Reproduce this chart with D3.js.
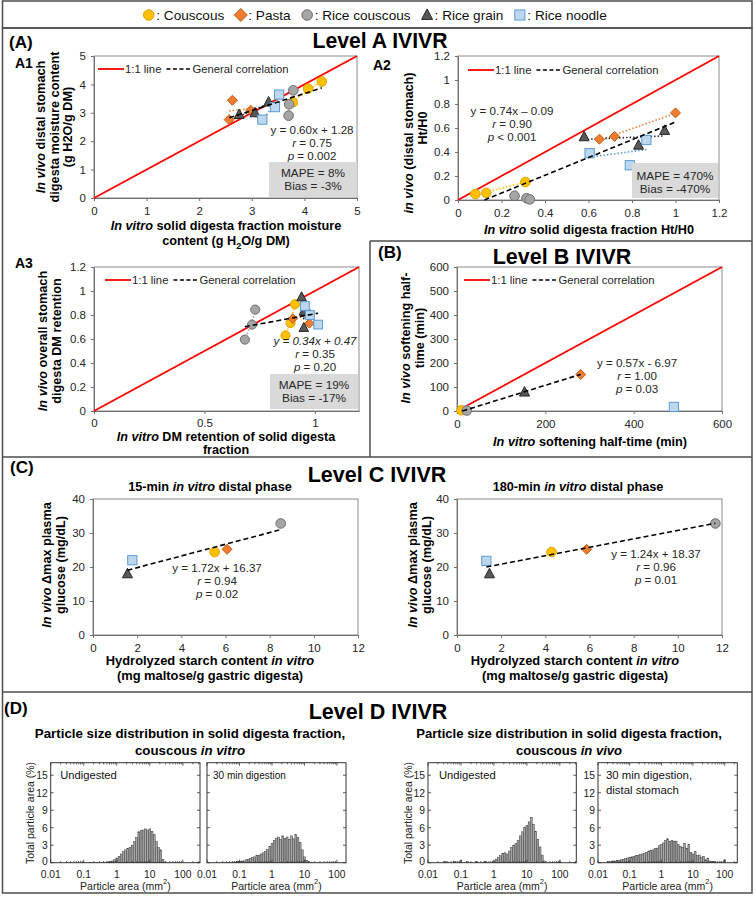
<!DOCTYPE html>
<html><head><meta charset="utf-8">
<script src="https://cdn.jsdelivr.net/npm/d3@7"></script>
<style>
body{margin:0;background:#fff;}
svg text{font-family:"Liberation Sans",Arial,Helvetica,sans-serif;}
</style></head><body>
<svg id="c" width="756" height="899"></svg>
<script>
// ---------------- DATA ----------------
const products = ["Couscous","Pasta","Rice couscous","Rice grain","Rice noodle"];

// Level A1: in vitro vs in vivo moisture content [product, x, y]
const a1Points = [
 ["Couscous",4.33,4.10],["Couscous",4.07,3.85],["Couscous",3.78,3.37],
 ["Pasta",2.57,2.76],["Pasta",2.63,3.44],["Pasta",2.98,3.09],
 ["Rice couscous",3.79,3.79],["Rice couscous",3.71,3.30],["Rice couscous",3.70,2.90],
 ["Rice grain",2.76,2.94],["Rice grain",3.06,3.00],["Rice grain",3.32,3.38],
 ["Rice noodle",3.52,3.64],["Rice noodle",3.44,3.20],["Rice noodle",3.20,2.76]];
const a1Fit = [0.60, 1.28];
const a1Ticks = [0,1,2,3,4,5];

// Level A2: Ht/H0
const a2Points = [
 ["Couscous",0.08,0.05],["Couscous",0.13,0.06],["Couscous",0.31,0.15],
 ["Pasta",0.65,0.507],["Pasta",0.72,0.53],["Pasta",1.00,0.726],
 ["Rice couscous",0.26,0.035],["Rice couscous",0.315,0.015],["Rice couscous",0.33,0.005],
 ["Rice grain",0.58,0.527],["Rice grain",0.83,0.457],["Rice grain",0.95,0.58],
 ["Rice noodle",0.605,0.39],["Rice noodle",0.79,0.29],["Rice noodle",0.866,0.50]];
const a2Fit = [0.74, -0.09];
const a2Ticks = [0,0.2,0.4,0.6,0.8,1,1.2];

// Level A3: DM retention
const a3Points = [
 ["Couscous",0.867,0.63],["Couscous",0.89,0.733],["Couscous",0.91,0.89],
 ["Pasta",0.90,0.77],["Pasta",0.96,0.84],["Pasta",0.975,0.73],
 ["Rice couscous",0.683,0.595],["Rice couscous",0.716,0.72],["Rice couscous",0.73,0.845],
 ["Rice grain",0.94,0.95],["Rice grain",0.95,0.83],["Rice grain",0.95,0.695],
 ["Rice noodle",0.955,0.875],["Rice noodle",0.978,0.80],["Rice noodle",1.015,0.72]];
const a3Fit = [0.34, 0.47];
const a3XTicks = [0,0.5,1];
const a3YTicks = [0,0.2,0.4,0.6,0.8,1,1.2];

// Level B: softening half-time (min)
const bPoints = [["Couscous",10,3],["Rice couscous",22,2],["Rice grain",153,79],["Pasta",280,152],["Rice noodle",491,17]];
const bFit = [0.57, -6.97];
const bFitExclude = ["Rice noodle"];
const bTicks = [0,100,200,300,400,500,600];
const bXTicks = [0,200,400,600];

// Level C: hydrolyzed starch vs delta max plasma glucose
const c15Points = [["Rice noodle",1.78,22.0],["Rice grain",1.56,18.0],["Couscous",5.51,24.4],["Pasta",6.07,25.2],["Rice couscous",8.5,32.8]];
const c15Fit = [1.72, 16.37];
const c180Points = [["Rice noodle",1.33,21.8],["Rice grain",1.47,18.0],["Couscous",4.28,24.4],["Pasta",5.87,25.2],["Rice couscous",11.7,32.8]];
const c180Fit = [1.24, 18.37];
const cXTicks = [0,2,4,6,8,10,12];
const cYTicks = [0,10,20,30,40];

// Level D: particle size distributions [particle area mm2, % total area]
const dVitroUndigested = [[0.10,0.05],[0.16,0.05],[0.25,0.05],[0.40,0.1],[0.54,0.15],[0.63,0.2],[0.74,0.3],[0.86,0.5],[1.00,0.8],[1.17,1.1],[1.36,1.5],[1.58,1.9],[1.85,2.2],[2.15,2.4],[2.51,2.6],[2.93,3.0],[3.41,3.6],[3.98,4.3],[4.64,5.3],[5.41,5.5],[6.31,5.6],[7.36,5.8],[8.58,5.6],[10.0,5.8],[11.7,5.4],[13.6,4.8],[15.8,3.6],[18.5,2.6],[21.5,2.2],[25.1,0.6],[29.3,0.1]];
const dVitro30 = [[0.034,0.05],[0.046,0.05],[0.063,0.1],[0.074,0.1],[0.086,0.2],[0.10,0.2],[0.117,0.3],[0.136,0.3],[0.158,0.5],[0.185,0.6],[0.215,0.7],[0.251,0.9],[0.293,1.0],[0.341,1.2],[0.398,1.3],[0.464,1.5],[0.541,1.7],[0.631,1.9],[0.736,2.3],[0.858,2.8],[1.00,3.3],[1.17,3.8],[1.36,4.2],[1.58,4.4],[1.85,4.0],[2.15,4.6],[2.51,4.2],[2.93,4.4],[3.41,4.0],[3.98,4.6],[4.64,4.1],[5.41,4.8],[6.31,4.3],[7.36,3.5],[8.58,2.2],[10.0,1.0],[11.7,0.4],[13.6,0.2],[15.8,0.1]];
const dVivoUndigested = [[0.034,0.2],[0.063,0.2],[0.10,0.4],[0.158,0.2],[0.293,0.2],[0.541,0.2],[1.00,0.3],[1.17,0.6],[1.36,0.9],[1.58,1.2],[1.85,1.6],[2.15,1.7],[2.51,1.5],[2.93,2.0],[3.41,2.6],[3.98,3.0],[4.64,3.3],[5.41,3.8],[6.31,4.6],[7.36,5.3],[8.58,6.0],[10.0,6.4],[11.7,7.0],[13.6,7.8],[15.8,6.6],[18.5,5.4],[21.5,4.0],[25.1,2.7],[29.3,1.3],[34.1,0.3],[100,0.3]];
const dVivo30 = [[0.0215,0.2],[0.025,0.2],[0.029,0.3],[0.034,0.3],[0.040,0.4],[0.046,0.4],[0.054,0.5],[0.063,0.6],[0.074,0.7],[0.086,0.8],[0.10,0.9],[0.117,1.0],[0.136,1.1],[0.158,1.2],[0.185,1.3],[0.215,1.4],[0.251,1.5],[0.293,1.6],[0.341,1.8],[0.398,2.0],[0.464,2.1],[0.541,2.2],[0.631,2.4],[0.736,2.5],[0.858,2.9],[1.00,3.1],[1.17,3.4],[1.36,3.8],[1.58,4.1],[1.85,3.6],[2.15,3.8],[2.51,3.7],[2.93,3.7],[3.41,3.1],[3.98,2.8],[4.64,2.6],[5.41,3.3],[6.31,2.5],[7.36,3.1],[8.58,1.8],[10.0,1.5],[11.7,1.9],[13.6,1.2],[15.8,1.3],[18.5,0.9],[21.5,1.1],[25.1,0.5],[29.3,0.8],[34.1,0.3],[39.8,0.2],[46.4,0.2],[54.1,0.1],[73.6,0.1],[100,0.5]];
const dXTicks = [0.01,0.1,1,10,100];
const dXTickLabels = ["0.01","0.1","1","10","100"];
const dYTicks = [0,3,6,9,12,15];

// ---------------- STYLE ----------------
const shapeOf = {"Couscous":"circle","Pasta":"diamond","Rice couscous":"circle","Rice grain":"triangle","Rice noodle":"square"};
const fillOf = {"Couscous":"#FFC000","Pasta":"#ED7D31","Rice couscous":"#A5A5A5","Rice grain":"#595959","Rice noodle":"#BDD7EE"};
const strokeOf = {"Couscous":"#D9A300","Pasta":"#C55A11","Rice couscous":"#6E6E6E","Rice grain":"#262626","Rice noodle":"#5B9BD5"};
const lineOf = {"Couscous":"#FFC000","Pasta":"#ED7D31","Rice couscous":"#A5A5A5","Rice grain":"#262626","Rice noodle":"#5B9BD5"};

const svg = d3.select('#c');

function rich(sel, parts, size){
  parts.forEach(p=>{
    const [t,s] = Array.isArray(p) ? p : [p,''];
    const ts = sel.append('tspan').text(t);
    if (s.includes('i')) ts.attr('font-style','italic');
    if (s.includes('sub')) ts.attr('baseline-shift','sub').attr('font-size',size*0.72);
    if (s.includes('sup')) ts.attr('baseline-shift','super').attr('font-size',size*0.72);
  });
}
function label(x,y,parts,o={}){
  const size=o.size||12.5;
  const t=svg.append('text').attr('font-size',size)
    .attr('font-weight',o.bold?'bold':'normal')
    .attr('text-anchor',o.anchor||'middle')
    .attr('dominant-baseline','central')
    .attr('fill',o.fill||'#000');
  if(o.rotate) t.attr('transform',`translate(${x},${y}) rotate(-90)`);
  else t.attr('x',x).attr('y',y);
  rich(t, typeof parts==='string'?[parts]:parts, size);
  return t;
}
function marker(g,prod,cx,cy,s=1){
  const t=shapeOf[prod]; let el;
  if(t==='circle') el=g.append('circle').attr('cx',cx).attr('cy',cy).attr('r',4.8*s);
  else if(t==='square') el=g.append('rect').attr('x',cx-4.6*s).attr('y',cy-4.6*s).attr('width',9.2*s).attr('height',9.2*s);
  else if(t==='diamond') el=g.append('path').attr('d',`M${cx},${cy-5*s}L${cx+5*s},${cy}L${cx},${cy+5*s}L${cx-5*s},${cy}Z`);
  else el=g.append('path').attr('d',`M${cx},${cy-5.5*s}L${cx+5*s},${cy+4*s}L${cx-5*s},${cy+4*s}Z`);
  el.attr('fill',fillOf[prod]).attr('stroke',strokeOf[prod]).attr('stroke-width',1);
}
function ols(pts){
  const mx=d3.mean(pts,d=>d[0]), my=d3.mean(pts,d=>d[1]);
  let sxy=0,sxx=0; pts.forEach(([a,b])=>{sxy+=(a-mx)*(b-my);sxx+=(a-mx)*(a-mx);});
  const m=sxx?sxy/sxx:0; return [m,my-m*mx];
}

function scatter(c){
  const x=d3.scaleLinear().domain(c.xDom).range([c.left,c.right]);
  const y=d3.scaleLinear().domain(c.yDom).range([c.bottom,c.top]);
  const g=svg.append('g');
  g.append('rect').attr('x',c.left).attr('y',c.top).attr('width',c.right-c.left).attr('height',c.bottom-c.top)
    .attr('fill','none').attr('stroke','#8a8a8a').attr('stroke-width',1);
  const styleAxis=a=>{
    a.attr('font-size',11.5).attr('font-family',null);
    a.select('.domain').attr('stroke','#6f6f6f');
    a.selectAll('line').attr('stroke','#6f6f6f');
    a.selectAll('text').attr('fill','#262626');
  };
  g.append('g').attr('transform',`translate(0,${c.bottom})`)
    .call(d3.axisBottom(x).tickValues(c.xTicks).tickFormat(d=>String(d)).tickSizeInner(3).tickSizeOuter(0).tickPadding(c.xPad||6)).call(styleAxis);
  g.append('g').attr('transform',`translate(${c.left},0)`)
    .call(d3.axisLeft(y).tickValues(c.yTicks).tickFormat(d=>String(d)).tickSizeInner(3).tickSizeOuter(0).tickPadding(5)).call(styleAxis);
  const line=d3.line().x(d=>x(d[0])).y(d=>y(d[1]));
  if(c.oneToOne){
    g.append('path').attr('d',line([[c.xDom[0],c.xDom[0]],[c.xDom[1],c.xDom[1]]]))
      .attr('stroke','#FF0000').attr('stroke-width',1.8).attr('fill','none');
  }
  if(c.groupLines){
    products.forEach(p=>{
      const pts=c.points.filter(d=>d[0]===p).map(d=>[d[1],d[2]]);
      const [m,b]=ols(pts); const [x0,x1]=d3.extent(pts,d=>d[0]);
      g.append('path').attr('d',line([[x0,m*x0+b],[x1,m*x1+b]]))
        .attr('stroke',lineOf[p]).attr('stroke-width',1.6).attr('stroke-dasharray','1.5,2').attr('fill','none');
    });
  }
  c.points.forEach(d=>marker(g,d[0],x(d[1]),y(d[2]),c.ms||1));
  // general correlation
  const inc=c.points.filter(d=>!(c.exclude||[]).includes(d[0]));
  let [fx0,fx1]=d3.extent(inc,d=>d[1]);
  const [m,b]=c.fit;
  if(m*fx0+b<0) fx0=-b/m;
  g.append('path').attr('d',line([[fx0,m*fx0+b],[fx1,m*fx1+b]]))
    .attr('stroke','#000').attr('stroke-width',1.6).attr('stroke-dasharray','5,3').attr('fill','none');
  // legend
  if(c.legend){
    const [lx,ly]=c.legend;
    g.append('line').attr('x1',lx).attr('x2',lx+26).attr('y1',ly).attr('y2',ly).attr('stroke','#FF0000').attr('stroke-width',1.8);
    const t1=g.append('text').attr('x',lx+27).attr('y',ly).attr('dominant-baseline','central').attr('font-size',11.3).attr('fill','#262626').text('1:1 line');
    const x2=lx+27+t1.node().getComputedTextLength()+5;
    g.append('line').attr('x1',x2).attr('x2',x2+25).attr('y1',ly).attr('y2',ly).attr('stroke','#000').attr('stroke-width',1.6).attr('stroke-dasharray','4,2.5');
    g.append('text').attr('x',x2+26).attr('y',ly).attr('dominant-baseline','central').attr('font-size',11.3).attr('fill','#262626').text('General correlation');
  }
  // equation
  c.eq.lines.forEach((parts,i)=>label(c.eq.x,c.eq.ys[i],parts,{size:11.6,fill:'#262626'}));
  if(c.mape){
    const mp=c.mape;
    g.append('rect').attr('x',mp.x).attr('y',mp.y).attr('width',mp.w).attr('height',mp.h).attr('fill','#d9d9d9');
    mp.lines.forEach((s,i)=>label(mp.x+mp.w/2,mp.ys[i],s,{size:11.8,fill:'#262626'}));
  }
}

// ---------------- FRAMES ----------------
const frame=svg.append('g').attr('stroke','#4d4d4d').attr('stroke-width',1.5).attr('fill','none');
frame.append('rect').attr('x',2.5).attr('y',1).attr('width',749.5).attr('height',27);
frame.append('rect').attr('x',2.5).attr('y',28).attr('width',749.5).attr('height',865);
frame.append('line').attr('x1',2.5).attr('x2',752).attr('y1',457).attr('y2',457);
frame.append('line').attr('x1',2.5).attr('x2',752).attr('y1',692).attr('y2',692);
frame.append('line').attr('x1',370).attr('x2',752).attr('y1',241).attr('y2',241);
frame.append('line').attr('x1',370).attr('x2',370).attr('y1',241).attr('y2',457);

// top legend
const lg=svg.append('g');
let lx=0;
products.forEach(p=>{
  marker(lg,p,lx+5.5,15,p==='Pasta'?1.3:1.1);
  const t=lg.append('text').attr('x',lx+13).attr('y',15).attr('dominant-baseline','central').attr('font-size',13.6).attr('fill','#111').text(': '+p);
  lx+=13+t.node().getComputedTextLength()+11;
});
lg.attr('transform',`translate(${375-(lx-11)/2},0)`);

// ---------------- PANEL A ----------------
label(9,42,'(A)',{size:17,bold:true,anchor:'start'});
label(380,40,'Level A IVIVR',{size:21.2,bold:true});
label(15,63,'A1',{size:14,bold:true,anchor:'start'});
label(373,65,'A2',{size:14,bold:true,anchor:'start'});
label(15,263,'A3',{size:14,bold:true,anchor:'start'});

scatter({left:94,right:357,top:56,bottom:198,xDom:[0,5],yDom:[0,5],xTicks:a1Ticks,yTicks:a1Ticks,
  points:a1Points,fit:a1Fit,oneToOne:true,groupLines:true,legend:[98,69],
  eq:{x:312,ys:[129,142,155],lines:[['y = 0.60x + 1.28'],[['r','i'],' = 0.75'],[['p','i'],' = 0.002']]},
  mape:{x:269,y:162,w:88,h:35,ys:[173,186],lines:['MAPE = 8%','Bias = -3%']}});
label(226,226,[['In vitro','i'],' solid digesta fraction moisture'],{bold:true,size:12.7});
label(226,241,['content (g H',['2','sub'],'O/g DM)'],{bold:true,size:12.7});
label(41,127,[['In vivo','i'],' distal stomach'],{bold:true,size:12.7,rotate:true});
label(54.5,127,'digesta moisture content',{bold:true,size:12.7,rotate:true});
label(68,127,'(g H2O/g DM)',{bold:true,size:12.7,rotate:true});

scatter({left:458,right:719,top:56,bottom:200,xDom:[0,1.2],yDom:[0,1.2],xTicks:a2Ticks,yTicks:a2Ticks,
  points:a2Points,fit:a2Fit,oneToOne:true,groupLines:true,legend:[468,70],
  eq:{x:512,ys:[110,123,136],lines:[['y = 0.74x \u2013 0.09'],[['r','i'],' = 0.90'],[['p','i'],' < 0.001']]},
  mape:{x:632,y:163,w:86,h:35,ys:[176,188.5],lines:['MAPE = 470%','Bias = -470%']}});
label(589,230,[['In vitro','i'],' solid digesta fraction Ht/H0'],{bold:true,size:12.7});
label(409,143,[['in vivo','i'],' (distal stomach)'],{bold:true,size:12.7,rotate:true});
label(423,128,'Ht/H0',{bold:true,size:12.7,rotate:true});

scatter({left:94,right:359,top:267,bottom:411,xDom:[0,1.2],yDom:[0,1.2],xTicks:a3XTicks,yTicks:a3YTicks,xPad:4.5,
  points:a3Points,fit:a3Fit,oneToOne:true,groupLines:true,legend:[105,280],ms:0.95,
  eq:{x:315,ys:[340,353,366],lines:[[['y = 0.34x + 0.47','i']],[['r','i'],' = 0.35'],[['p','i'],' = 0.20']]},
  mape:{x:270,y:374,w:88,h:35,ys:[385,397.5],lines:['MAPE = 19%','Bias = -17%']}});
label(226,436.5,[['In vitro','i'],' DM retention of solid digesta'],{bold:true,size:12.6});
label(226,450,'fraction',{bold:true,size:12.6});
label(43,341,[['In vivo','i'],' overall stomach'],{bold:true,size:12.7,rotate:true});
label(57,341,'digesta DM retention',{bold:true,size:12.7,rotate:true});

// ---------------- PANEL B ----------------
label(378,252,'(B)',{size:17,bold:true,anchor:'start'});
label(562,257,'Level B IVIVR',{size:21.5,bold:true});
scatter({left:457,right:722,top:267,bottom:411,xDom:[0,600],yDom:[0,600],xTicks:bXTicks,yTicks:bTicks,
  points:bPoints,fit:bFit,exclude:bFitExclude,oneToOne:true,groupLines:false,legend:[464,280],
  eq:{x:637,ys:[362,375,388],lines:[['y = 0.57x - 6.97'],[['r','i'],' = 1.00'],[['p','i'],' = 0.03']]}});
label(590,442,[['In vitro','i'],' softening half-time (min)'],{bold:true,size:12.7});
label(406,338,[['In vivo','i'],' softening half-'],{bold:true,size:12.7,rotate:true});
label(420,338,'time (min)',{bold:true,size:12.7,rotate:true});

// ---------------- PANEL C ----------------
label(10,467,'(C)',{size:17,bold:true,anchor:'start'});
label(377,475,'Level C IVIVR',{size:21.5,bold:true});
label(210,487,['15-min ',['in vitro','i'],' distal phase'],{bold:true,size:12.7});
label(578,487,['180-min ',['in vitro','i'],' distal phase'],{bold:true,size:12.7});
scatter({left:93,right:358,top:499,bottom:635,xDom:[0,12],yDom:[0,40],xTicks:cXTicks,yTicks:cYTicks,
  points:c15Points,fit:c15Fit,oneToOne:false,groupLines:false,
  eq:{x:217,ys:[567,580,593],lines:[['y = 1.72x + 16.37'],[['r','i'],' = 0.94'],[['p','i'],' = 0.02']]}});
scatter({left:457,right:722,top:499,bottom:635,xDom:[0,12],yDom:[0,40],xTicks:cXTicks,yTicks:cYTicks,
  points:c180Points,fit:c180Fit,oneToOne:false,groupLines:false,
  eq:{x:656,ys:[553,566,579],lines:[['y = 1.24x + 18.37'],[['r','i'],' = 0.96'],[['p','i'],' = 0.01']]}});
label(210,660,['Hydrolyzed starch content ',['in vitro','i']],{bold:true,size:12.9});
label(210,675,'(mg maltose/g gastric digesta)',{bold:true,size:12.9});
label(575,660,['Hydrolyzed starch content ',['in vitro','i']],{bold:true,size:12.9});
label(575,675,'(mg maltose/g gastric digesta)',{bold:true,size:12.9});
label(47,565,[['In vivo','i'],' \u0394max plasma'],{bold:true,size:12.7,rotate:true});
label(61,565,'glucose (mg/dL)',{bold:true,size:12.7,rotate:true});
label(413,565,[['In vivo','i'],' \u0394max plasma'],{bold:true,size:12.7,rotate:true});
label(427,565,'glucose (mg/dL)',{bold:true,size:12.7,rotate:true});

// ---------------- PANEL D ----------------
label(4,708,'(D)',{size:17,bold:true,anchor:'start'});
label(378,712,'Level D IVIVR',{size:21.5,bold:true});
label(190,733,'Particle size distribution in solid digesta fraction,',{bold:true,size:13.3});
label(190,750,['couscous ',['in vitro','i']],{bold:true,size:13.3});
label(569,733,'Particle size distribution in solid digesta fraction,',{bold:true,size:13.1});
label(569,750,['couscous ',['in vivo','i']],{bold:true,size:13.1});

function hist(p){
  const top=762.7, bottom=862.7;
  const x=d3.scaleLog().domain([0.01,p.xMax]).range([p.left,p.right]);
  const y=d3.scaleLinear().domain([0,17.15]).range([bottom,top]);
  const g=svg.append('g');
  const step=(x(10)-x(1))/15;
  g.selectAll('rect.bar').data(p.data).enter().append('rect')
    .attr('x',d=>x(d[0])-step*0.42).attr('width',step*0.84)
    .attr('y',d=>y(d[1])).attr('height',d=>bottom-y(d[1]))
    .attr('fill','#a8a8a8').attr('stroke','#3a3a3a').attr('stroke-width',0.5);
  g.append('rect').attr('x',p.left).attr('y',top).attr('width',p.right-p.left).attr('height',bottom-top)
    .attr('fill','none').attr('stroke','#333').attr('stroke-width',1);
  const tk=g.append('g').attr('stroke','#333').attr('stroke-width',0.8);
  dYTicks.forEach(v=>{
    tk.append('line').attr('x1',p.left).attr('x2',p.left+3).attr('y1',y(v)).attr('y2',y(v));
    tk.append('line').attr('x1',p.right-3).attr('x2',p.right).attr('y1',y(v)).attr('y2',y(v));
  });
  dXTicks.forEach(v=>{
    tk.append('line').attr('x1',x(v)).attr('x2',x(v)).attr('y1',bottom).attr('y2',bottom-3);
    tk.append('line').attr('x1',x(v)).attr('x2',x(v)).attr('y1',top).attr('y2',top+3);
    [2,3,4,5,6,7,8,9].forEach(k=>{
      const mv=v*k; if(mv<p.xMax){
        tk.append('line').attr('x1',x(mv)).attr('x2',x(mv)).attr('y1',bottom).attr('y2',bottom-1.6);
        tk.append('line').attr('x1',x(mv)).attr('x2',x(mv)).attr('y1',top).attr('y2',top+1.6);
      }
    });
  });
  dXTicks.forEach((v,i)=>label(x(v),873.5,dXTickLabels[i],{size:10.3,fill:'#222'}));
  if(p.yLabels) dYTicks.forEach(v=>label(p.left-3,y(v)-(v===0?1.5:0),String(v),{size:10.3,fill:'#222',anchor:'end'}));
  label((p.left+p.right)/2,885.5,['Particle area (mm',['2','sup'],')'],{size:10.5,fill:'#222'});
  p.notes.forEach((n,i)=>label(p.left+p.noteDx,775+i*14.5,n,{size:p.noteSize,fill:'#111',anchor:'start'}));
}
hist({left:50.7,right:200,xMax:330,data:dVitroUndigested,yLabels:true,notes:['Undigested'],noteDx:9.5,noteSize:11.2});
hist({left:207,right:346,xMax:190,data:dVitro30,yLabels:false,notes:['30 min digestion'],noteDx:6,noteSize:10});
hist({left:428,right:576.3,xMax:316,data:dVivoUndigested,yLabels:true,notes:['Undigested'],noteDx:11,noteSize:11.2});
hist({left:598,right:737.3,xMax:250,data:dVivo30,yLabels:true,notes:['30 min digestion,','distal stomach'],noteDx:8,noteSize:11.4});
label(30,813,'Total particle area (%)',{size:10.5,fill:'#222',rotate:true});
label(408,813,'Total particle area (%)',{size:10.5,fill:'#222',rotate:true});
</script>
</body></html>
